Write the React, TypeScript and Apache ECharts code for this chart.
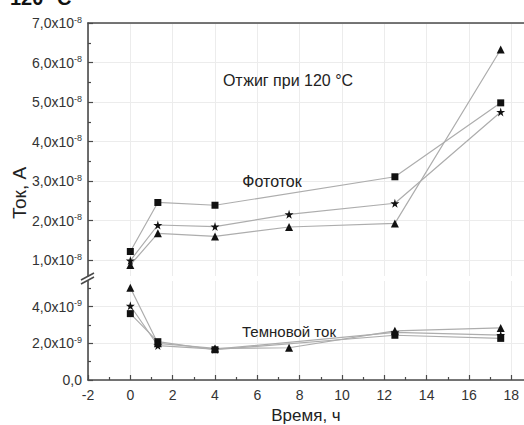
import React, { useEffect, useRef } from 'react';
import * as echarts from 'echarts';

// Time, h
const hours = [0, 1.3, 4, 7.5, 12.5, 17.5];
// Photocurrent (Фототок), in units of 1e-8 A
const photoSquare = [1.22, 2.46, 2.39, null, 3.11, 4.98];
const photoStar = [0.99, 1.89, 1.85, 2.16, 2.44, 4.75];
const photoTriangle = [0.88, 1.68, 1.6, 1.84, 1.93, 6.33];
// Dark current (Темновой ток), in units of 1e-9 A
const darkSquare = [3.62, 2.09, 1.65, null, 2.44, 2.27];
const darkStar = [4.05, 1.88, 1.68, null, 2.6, 2.45];
const darkTriangle = [5.03, 2.0, 1.72, 1.76, 2.68, 2.84];

const xTicks = [-2, 0, 2, 4, 6, 8, 10, 12, 14, 16, 18];
const xMinorTicks = [-1, 1, 3, 5, 7, 9, 11, 13, 15, 17];
const upperTicks = [1, 2, 3, 4, 5, 6, 7];
const upperMinorTicks = [1.5, 2.5, 3.5, 4.5, 5.5, 6.5];
const lowerTicks = [0, 2, 4];
const lowerMinorTicks = [1, 3, 5];

const STAR = 'path://M50,0 L61,35 L98,35 L68,57 L79,91 L50,70 L21,91 L32,57 L2,35 L39,35 Z';
const FONT = '"Liberation Sans", Arial, sans-serif';
const AXIS_COLOR = '#4a4a4a';
const GRID_COLOR = '#ececec';
const LINE_COLOR = '#adadad';

const toPairs = (vals: (number | null)[]) =>
  hours.map((h, i) => [h, vals[i]]).filter((d) => d[1] !== null);

const labelRich = {
  a: { fontSize: 14, fontFamily: FONT, color: '#333', lineHeight: 16 },
  b: { fontSize: 9, fontFamily: FONT, color: '#333', verticalAlign: 'top', lineHeight: 9 },
};

export default function App() {
  const ref = useRef<HTMLDivElement>(null);
  useEffect(() => {
    if (!ref.current) return;
    const chart = echarts.init(ref.current, null, { renderer: 'svg' });

    const lineSeries = (name: string, vals: (number | null)[], symbol: string, size: number, xi: number, yi: number) => ({
      name,
      type: 'line',
      xAxisIndex: xi,
      yAxisIndex: yi,
      data: toPairs(vals),
      symbol,
      symbolSize: size,
      showAllSymbol: true,
      lineStyle: { color: LINE_COLOR, width: 1.2 },
      itemStyle: { color: '#111', opacity: 1 },
      emphasis: { disabled: true },
      z: 3,
    });

    chart.setOption({
      animation: false,
      backgroundColor: '#fff',
      grid: [
        { left: 88, right: 0, top: 23, height: 253 },
        { left: 88, right: 0, top: 281, height: 103 },
      ],
      xAxis: [
        {
          gridIndex: 0, type: 'value', min: -2, max: 18.6, position: 'top',
          axisLine: { show: true, onZero: false, lineStyle: { color: AXIS_COLOR, width: 1.6 } },
          axisTick: { show: false, customValues: xTicks },
          axisLabel: { show: false },
          splitLine: { show: true, lineStyle: { color: GRID_COLOR, width: 1 } },
        },
        {
          gridIndex: 1, type: 'value', min: -2, max: 18.6, position: 'bottom',
          axisLine: { show: true, onZero: false, lineStyle: { color: AXIS_COLOR, width: 1.6 } },
          axisTick: { show: true, inside: true, length: 5, customValues: xTicks, lineStyle: { color: AXIS_COLOR, width: 1.2 } },
          axisLabel: { customValues: xTicks, fontSize: 14, fontFamily: FONT, color: '#333', margin: 8 },
          splitLine: { show: true, lineStyle: { color: GRID_COLOR, width: 1 } },
          name: 'Время, ч', nameLocation: 'middle', nameGap: 27,
          nameTextStyle: { fontSize: 17, fontFamily: FONT, color: '#222' },
        },
        {
          gridIndex: 1, type: 'value', min: -2, max: 18.6, position: 'bottom',
          axisLine: { show: false, onZero: false },
          axisTick: { show: true, inside: true, length: 3, customValues: xMinorTicks, lineStyle: { color: AXIS_COLOR, width: 1.2 } },
          axisLabel: { show: false },
          splitLine: { show: false },
        },
      ],
      yAxis: [
        {
          gridIndex: 0, type: 'value', min: 0.6, max: 7, position: 'left',
          axisLine: { show: true, onZero: false, lineStyle: { color: AXIS_COLOR, width: 1.6 } },
          axisTick: { show: true, inside: true, length: 5, customValues: upperTicks, lineStyle: { color: AXIS_COLOR, width: 1.2 } },
          axisLabel: {
            customValues: upperTicks, margin: 6,
            formatter: (v: number) => `{a|${v},0x10}{b|-8}`,
            rich: labelRich,
          },
          splitLine: { show: true, lineStyle: { color: GRID_COLOR, width: 1 } },
        },
        {
          gridIndex: 0, type: 'value', min: 0.6, max: 7, position: 'left',
          axisLine: { show: false, onZero: false },
          axisTick: { show: true, inside: true, length: 3, customValues: upperMinorTicks, lineStyle: { color: AXIS_COLOR, width: 1.2 } },
          axisLabel: { show: false },
          splitLine: { show: false },
        },
        {
          gridIndex: 1, type: 'value', min: 0, max: 5.4, position: 'left',
          axisLine: { show: true, onZero: false, lineStyle: { color: AXIS_COLOR, width: 1.6 } },
          axisTick: { show: true, inside: true, length: 5, customValues: lowerTicks, lineStyle: { color: AXIS_COLOR, width: 1.2 } },
          axisLabel: {
            customValues: lowerTicks, margin: 6,
            formatter: (v: number) => (v === 0 ? '{a|0,0}' : `{a|${v},0x10}{b|-9}`),
            rich: labelRich,
          },
          splitLine: { show: true, lineStyle: { color: GRID_COLOR, width: 1 } },
        },
        {
          gridIndex: 1, type: 'value', min: 0, max: 5.4, position: 'left',
          axisLine: { show: false, onZero: false },
          axisTick: { show: true, inside: true, length: 3, customValues: lowerMinorTicks, lineStyle: { color: AXIS_COLOR, width: 1.2 } },
          axisLabel: { show: false },
          splitLine: { show: false },
        },
      ],
      series: [
        lineSeries('Фототок ■', photoSquare, 'rect', 7, 0, 0),
        lineSeries('Фототок ★', photoStar, STAR, 9, 0, 0),
        lineSeries('Фототок ▲', photoTriangle, 'triangle', 8, 0, 0),
        lineSeries('Темновой ток ■', darkSquare, 'rect', 7, 1, 2),
        lineSeries('Темновой ток ★', darkStar, STAR, 9, 1, 2),
        lineSeries('Темновой ток ▲', darkTriangle, 'triangle', 8, 1, 2),
      ],
      graphic: [
        {
          type: 'text', left: 10, top: -12, z: 10,
          style: { text: '120 °C', fontSize: 20, fontWeight: 'bold', fontFamily: FONT, fill: '#111' },
        },
        {
          type: 'text', x: 288, y: 80, z: 10,
          style: { text: 'Отжиг при 120 °C', fontSize: 16, fontFamily: FONT, fill: '#222', align: 'center', verticalAlign: 'middle' },
        },
        {
          type: 'text', x: 272, y: 181, z: 10,
          style: { text: 'Фототок', fontSize: 16, fontFamily: FONT, fill: '#222', align: 'center', verticalAlign: 'middle' },
        },
        {
          type: 'text', x: 289, y: 331, z: 10,
          style: { text: 'Темновой ток', fontSize: 15, fontFamily: FONT, fill: '#222', align: 'center', verticalAlign: 'middle' },
        },
        {
          type: 'text', x: 19, y: 193, rotation: Math.PI / 2, z: 10,
          style: { text: 'Ток, А', fontSize: 19, fontFamily: FONT, fill: '#222', align: 'center', verticalAlign: 'middle' },
        },
        {
          type: 'line', z: 10,
          shape: { x1: 81, y1: 280, x2: 94, y2: 273 },
          style: { stroke: AXIS_COLOR, lineWidth: 1.5 },
        },
        {
          type: 'line', z: 10,
          shape: { x1: 81, y1: 284, x2: 94, y2: 277 },
          style: { stroke: AXIS_COLOR, lineWidth: 1.5 },
        },
      ],
    });
    return () => chart.dispose();
  }, []);

  return (
    <div
      ref={ref}
      style={{ position: 'absolute', left: 0, top: 0, width: 524, height: 425 }}
    />
  );
}
